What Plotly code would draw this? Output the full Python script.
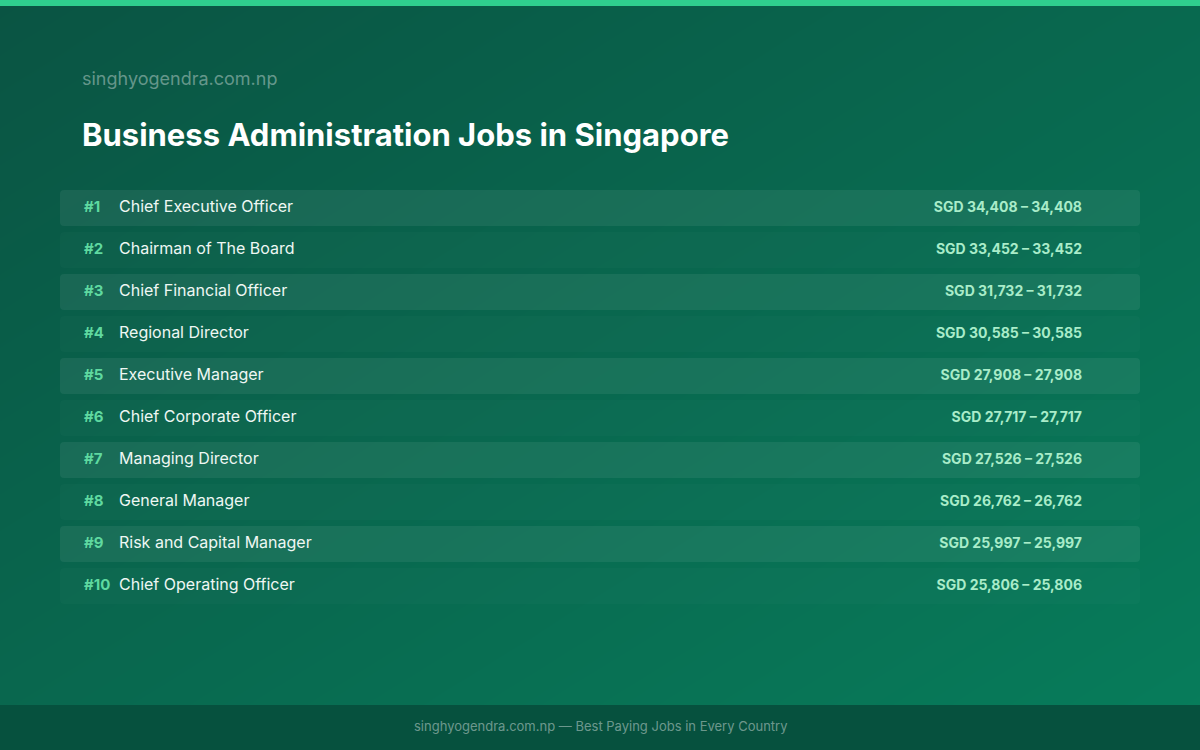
import plotly.graph_objects as go
import numpy as np

ranks = ["#1","#2","#3","#4","#5","#6","#7","#8","#9","#10"]
jobs = ["Chief Executive Officer","Chairman of The Board","Chief Financial Officer","Regional Director",
        "Executive Manager","Chief Corporate Officer","Managing Director","General Manager",
        "Risk and Capital Manager","Chief Operating Officer"]
sal_low = [34408,33452,31732,30585,27908,27717,27526,26762,25997,25806]
sal_high = [34408,33452,31732,30585,27908,27717,27526,26762,25997,25806]
title = "Business Administration Jobs in Singapore"
site = "singhyogendra.com.np"
footer = "singhyogendra.com.np — Best Paying Jobs in Every Country"

W, H = 1200, 750
FONT = "Inter, Roboto, sans-serif"
fig = go.Figure()

# gradient background
gx = np.linspace(0, W, 60); gy = np.linspace(0, H, 40)
Z = (gx[None, :] / W) * 0.5 + (gy[:, None] / H) * 0.5
fig.add_trace(go.Heatmap(x=gx, y=gy, z=Z, colorscale=[[0, "#0a5443"], [1, "#077d5b"]],
                         showscale=False, hoverinfo="skip", zsmooth="best"))

n = len(jobs)
ys = [208 + 42 * i for i in range(n)]
fills = ["rgba(255,255,255,0.065)" if i % 2 == 0 else "rgba(255,255,255,0.02)" for i in range(n)]
fig.add_trace(go.Bar(x=[1080] * n, base=[60] * n, y=ys, orientation="h", width=36,
                     marker=dict(color=fills, line=dict(width=0), cornerradius=4), hoverinfo="skip"))

fig.add_trace(go.Scatter(x=[84] * n, y=ys, mode="text", text=ranks, textposition="middle right",
                         textfont=dict(family=FONT, size=15, color="#5fd9a0", weight="bold"), hoverinfo="skip"))
fig.add_trace(go.Scatter(x=[119] * n, y=ys, mode="text", text=jobs, textposition="middle right",
                         textfont=dict(family=FONT, size=16, color="#eef7f3"), hoverinfo="skip"))
sal = [f"SGD {a:,} – {b:,}" for a, b in zip(sal_low, sal_high)]
fig.add_trace(go.Scatter(x=[1082] * n, y=ys, mode="text", text=sal, textposition="middle left",
                         textfont=dict(family=FONT, size=14, color="#a9ecc9", weight="bold"), hoverinfo="skip"))

shapes = [
    dict(type="rect", xref="x", yref="y", x0=0, x1=W, y0=0, y1=6, fillcolor="#2fcf8e", line_width=0, layer="above"),
    dict(type="rect", xref="x", yref="y", x0=0, x1=W, y0=705, y1=H, fillcolor="#06513e", line_width=0, layer="above"),
]
annotations = [
    dict(x=80, y=78, xref="x", yref="y", text=site, showarrow=False, xanchor="left",
         font=dict(family=FONT, size=18, color="rgba(255,255,255,0.38)")),
    dict(x=80, y=134, xref="x", yref="y", text=f"<b>{title}</b>", showarrow=False, xanchor="left",
         font=dict(family=FONT, size=31, color="#ffffff")),
    dict(x=W / 2, y=726, xref="x", yref="y", text=footer, showarrow=False, xanchor="center",
         font=dict(family=FONT, size=13, color="rgba(255,255,255,0.42)")),
]
fig.update_layout(width=W, height=H, margin=dict(l=0, r=0, t=0, b=0), showlegend=False,
                  paper_bgcolor="#0a5443", plot_bgcolor="#0a5443", barmode="overlay",
                  shapes=shapes, annotations=annotations,
                  xaxis=dict(range=[0, W], visible=False, fixedrange=True),
                  yaxis=dict(range=[H, 0], visible=False, fixedrange=True))
fig.write_html("out.html", config={"displayModeBar": False},
               post_script="document.body.style.margin='0';document.body.style.overflow='hidden';")
